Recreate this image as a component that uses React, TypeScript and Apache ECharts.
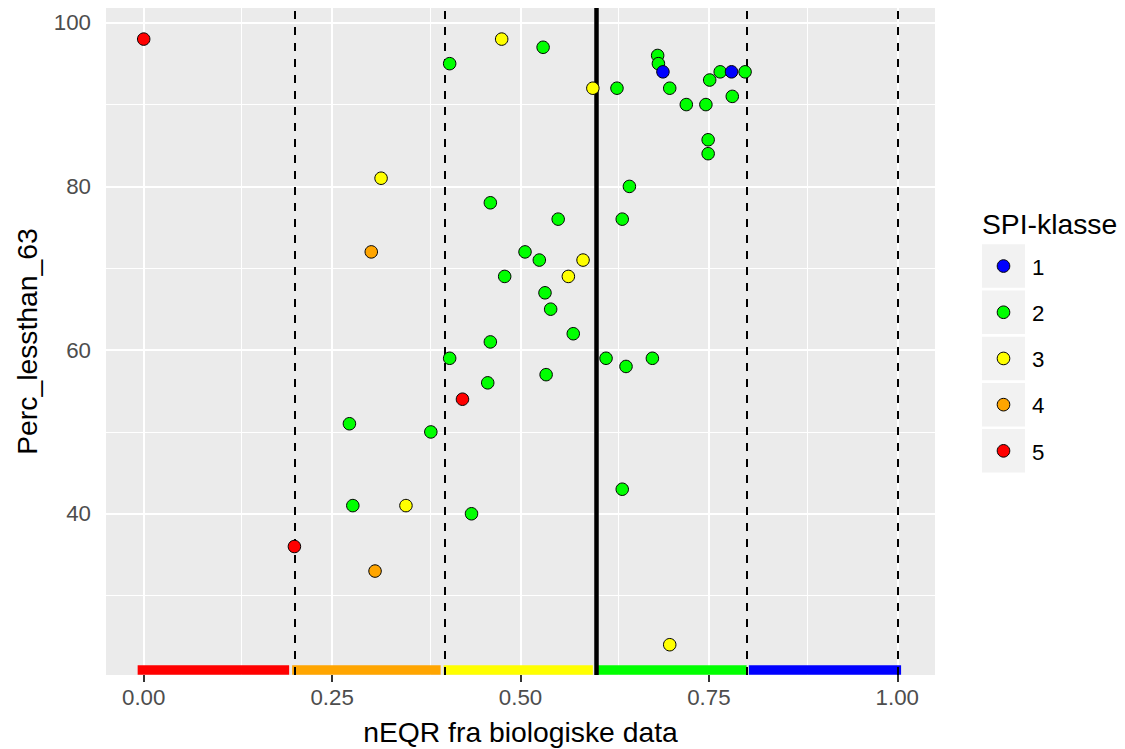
import React, { useEffect, useRef } from "react";
import * as echarts from "echarts";

// ---- data ----
const nEQR = [
  0.0, 0.475, 0.406, 0.53, 0.596, 0.628, 0.682, 0.683, 0.689, 0.698,
  0.72, 0.746, 0.751, 0.765, 0.78, 0.798, 0.781, 0.749, 0.749, 0.6445,
  0.635, 0.55, 0.315, 0.46, 0.302, 0.506, 0.525, 0.583, 0.479, 0.5635,
  0.5325, 0.54, 0.57, 0.46, 0.406, 0.6135, 0.675, 0.64, 0.534, 0.4565,
  0.423, 0.273, 0.381, 0.635, 0.2775, 0.348, 0.435, 0.2, 0.307, 0.698,
];
const perc = [
  98, 98, 95, 97, 92, 92, 96, 95, 94, 92,
  90, 90, 93, 94, 94, 94, 91, 85.7, 84, 80,
  76, 76, 81, 78, 72, 72, 71, 71, 69, 69,
  67, 65, 62, 61, 59, 59, 59, 58, 57, 56,
  54, 51, 50, 43, 41, 41, 40, 36, 33, 24,
];
const spiClass = [
  5, 3, 2, 2, 3, 2, 2, 2, 1, 2,
  2, 2, 2, 2, 1, 2, 2, 2, 2, 2,
  2, 2, 3, 2, 4, 2, 2, 3, 2, 3,
  2, 2, 2, 2, 2, 2, 2, 2, 2, 2,
  5, 2, 2, 2, 2, 3, 2, 5, 4, 3,
];

const classLabels = ["1", "2", "3", "4", "5"];
const classColors = ["#0000FF", "#00FF00", "#FFFF00", "#FFA500", "#FF0000"];

const xTicks = [0, 0.25, 0.5, 0.75, 1.0];
const xMinor = [0.125, 0.375, 0.625, 0.875];
const yTicks = [40, 60, 80, 100];
const yMinor = [30, 50, 70, 90];

const dashedLines = [0.2, 0.4, 0.8, 1.0];
const solidLine = 0.6;

const bandStart = [-0.008, 0.197, 0.398, 0.601, 0.803];
const bandEnd = [0.193, 0.394, 0.596, 0.8, 1.005];
const bandColors = ["#FF0000", "#FFA500", "#FFFF00", "#00FF00", "#0000FF"];
const bandY = 20.95;

const X_MIN = -0.05;
const X_MAX = 1.05;
const Y_MIN = 20.3;
const Y_MAX = 101.8;

const FONT = "'Liberation Sans', Arial, sans-serif";
const TITLE_SIZE = 28.3;
const TICK_SIZE = 22.3;

export default function App() {
  const ref = useRef<HTMLDivElement>(null);

  useEffect(() => {
    if (!ref.current) return;
    const chart = echarts.init(ref.current, undefined, { renderer: "svg" });

    const gridLines: any[] = [
      ...xMinor.map((v) => ({ xAxis: v, lineStyle: { color: "#FFFFFF", width: 1, type: "solid" } })),
      ...yMinor.map((v) => ({ yAxis: v, lineStyle: { color: "#FFFFFF", width: 1, type: "solid" } })),
      ...xTicks.map((v) => ({ xAxis: v, lineStyle: { color: "#FFFFFF", width: 2, type: "solid" } })),
      ...yTicks.map((v) => ({ yAxis: v, lineStyle: { color: "#FFFFFF", width: 2, type: "solid" } })),
    ];

    const bandLines: any[] = bandStart.map((s, i) => [
      { coord: [s, bandY], lineStyle: { color: bandColors[i], width: 9.5, type: "solid", cap: "butt" } },
      { coord: [bandEnd[i], bandY] },
    ]);

    const refLines: any[] = [
      ...dashedLines.map((v) => ({
        xAxis: v,
        lineStyle: { color: "#000000", width: 2, type: [8, 8] },
      })),
      { xAxis: solidLine, lineStyle: { color: "#000000", width: 4.5, type: "solid" } },
    ];

    const points = nEQR.map((x, i) => ({
      value: [x, perc[i]],
      itemStyle: { color: classColors[spiClass[i] - 1] },
    }));

    const legendTop = 244.3;
    const legendPitch = 46.2;
    const legendGraphics: any[] = [];
    classLabels.forEach((lab, i) => {
      const top = legendTop + i * legendPitch;
      legendGraphics.push({
        type: "rect",
        shape: { x: 982, y: top, width: 43, height: 43.5 },
        style: { fill: "#F2F2F2" },
      });
      legendGraphics.push({
        type: "circle",
        shape: { cx: 1003.5, cy: top + 21.75, r: 6.3 },
        style: { fill: classColors[i], stroke: "#000000", lineWidth: 1 },
      });
      legendGraphics.push({
        type: "text",
        x: 1032,
        y: top + 23,
        style: {
          text: lab,
          fontSize: TICK_SIZE,
          fontFamily: FONT,
          fill: "#000000",
          align: "left",
          verticalAlign: "middle",
        },
      });
    });

    chart.setOption({
      animation: false,
      backgroundColor: "#FFFFFF",
      grid: {
        left: 106,
        right: 190,
        top: 8,
        bottom: 74,
        show: true,
        backgroundColor: "#EBEBEB",
        borderWidth: 0,
        containLabel: false,
      },
      xAxis: {
        type: "value",
        min: X_MIN,
        max: X_MAX,
        axisLine: { show: false },
        splitLine: { show: false },
        axisTick: {
          show: true,
          length: 7,
          customValues: xTicks,
          lineStyle: { color: "#333333", width: 2 },
        },
        axisLabel: {
          show: true,
          customValues: xTicks,
          margin: 11,
          fontSize: TICK_SIZE,
          fontFamily: FONT,
          color: "#4D4D4D",
          formatter: (v: number) => v.toFixed(2),
        },
      },
      yAxis: {
        type: "value",
        min: Y_MIN,
        max: Y_MAX,
        axisLine: { show: false },
        splitLine: { show: false },
        axisTick: {
          show: true,
          length: 7,
          customValues: yTicks,
          lineStyle: { color: "#333333", width: 2 },
        },
        axisLabel: {
          show: true,
          customValues: yTicks,
          margin: 15,
          fontSize: TICK_SIZE,
          fontFamily: FONT,
          color: "#4D4D4D",
          formatter: (v: number) => String(Math.round(v)),
        },
      },
      series: [
        {
          type: "scatter",
          data: [],
          z: 1,
          silent: true,
          markLine: {
            silent: true,
            symbol: ["none", "none"],
            label: { show: false },
            emphasis: { disabled: true },
            data: gridLines,
          },
        },
        {
          type: "scatter",
          data: [],
          z: 2,
          silent: true,
          markLine: {
            silent: true,
            symbol: ["none", "none"],
            label: { show: false },
            emphasis: { disabled: true },
            data: bandLines,
          },
        },
        {
          type: "scatter",
          data: [],
          z: 3,
          silent: true,
          markLine: {
            silent: true,
            symbol: ["none", "none"],
            label: { show: false },
            emphasis: { disabled: true },
            data: refLines,
          },
        },
        {
          type: "scatter",
          z: 5,
          symbol: "circle",
          symbolSize: 12.5,
          itemStyle: { borderColor: "#000000", borderWidth: 1, opacity: 1 },
          data: points,
        },
      ],
      graphic: [
        {
          type: "text",
          x: 520.5,
          y: 732,
          style: {
            text: "nEQR fra biologiske data",
            fontSize: TITLE_SIZE,
            fontFamily: FONT,
            fill: "#000000",
            align: "center",
            verticalAlign: "middle",
          },
        },
        {
          type: "text",
          x: 27,
          y: 341.5,
          rotation: Math.PI / 2,
          style: {
            text: "Perc_lessthan_63",
            fontSize: TITLE_SIZE,
            fontFamily: FONT,
            fill: "#000000",
            align: "center",
            verticalAlign: "middle",
          },
        },
        {
          type: "text",
          x: 982,
          y: 224,
          style: {
            text: "SPI-klasse",
            fontSize: TITLE_SIZE,
            fontFamily: FONT,
            fill: "#000000",
            align: "left",
            verticalAlign: "middle",
          },
        },
        ...legendGraphics,
      ],
    });

    return () => chart.dispose();
  }, []);

  return (
    <div
      ref={ref}
      style={{ position: "fixed", left: 0, top: 0, width: 1125, height: 749 }}
    />
  );
}
